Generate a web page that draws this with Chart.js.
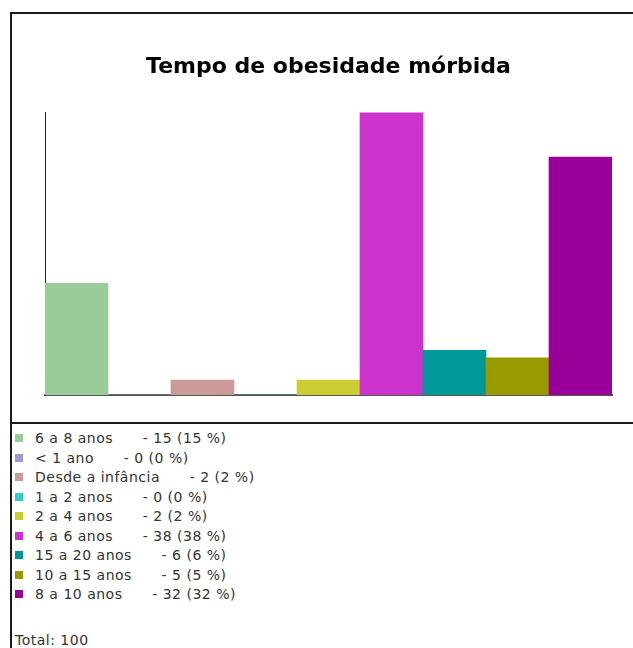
<!DOCTYPE html>
<html>
<head>
<meta charset="utf-8">
<script src="https://cdn.jsdelivr.net/npm/chart.js@4/dist/chart.umd.min.js"></script>
<style>
  html, body { margin: 0; padding: 0; background: #fff; overflow: hidden; width: 633px; height: 648px; }
  #frame { position: absolute; left: 10px; top: 12px; width: 660px; height: 700px;
           border-left: 2px solid #1a1a1a; border-top: 2px solid #1a1a1a; }
  #chartBox { position: absolute; left: 0; top: 0; width: 636px; height: 408px;
              border-bottom: 2px solid #1a1a1a; }
  #legend { position: absolute; left: 15px; top: 429px; font-family: 'DejaVu Sans', Verdana, sans-serif;
            font-size: 14px; letter-spacing: 0.5px; color: #333; }
  .row { position: relative; height: 19.5px; line-height: 19.5px; white-space: pre; }
  .sw { position: absolute; left: 0; top: 5px; width: 8px; height: 8px; }
  .txt { position: absolute; left: 20px; top: 0; }
  #total { position: absolute; left: 0; top: 203px; white-space: pre; }
</style>
</head>
<body>
<div id="frame">
  <div id="chartBox"><canvas id="c" width="636" height="408"></canvas></div>
</div>
<div id="legend"></div>
<script>
const chartTitle = "Tempo de obesidade mórbida";
const categories = ["6 a 8 anos", "< 1 ano", "Desde a infância", "1 a 2 anos", "2 a 4 anos",
                    "4 a 6 anos", "15 a 20 anos", "10 a 15 anos", "8 a 10 anos"];
const values = [15, 0, 2, 0, 2, 38, 6, 5, 32];
const colors = ["#99cc99", "#9999cc", "#cc9999", "#33cccc", "#cccc33",
                "#cc33cc", "#009999", "#999900", "#990099"];
const yMax = 38;

const total = values.reduce((a, b) => a + b, 0);

new Chart(document.getElementById('c'), {
  type: 'bar',
  data: {
    labels: categories,
    datasets: [{
      data: values,
      backgroundColor: colors,
      borderWidth: 0,
      barPercentage: 1,
      categoryPercentage: 1
    }]
  },
  options: {
    responsive: false,
    animation: false,
    layout: { padding: { left: 33, right: 36, top: 0, bottom: 19 } },
    plugins: {
      legend: { display: false },
      tooltip: { enabled: false },
      title: {
        display: true,
        text: chartTitle,
        color: '#000',
        font: { family: "'DejaVu Sans', Verdana, sans-serif", size: 22, weight: 'bold' },
        padding: { top: 40, bottom: 32 }
      }
    },
    scales: {
      x: {
        z: 1,
        grid: { display: false },
        ticks: { display: false },
        border: { display: true, color: '#555', width: 2 }
      },
      y: {
        min: 0, max: yMax,
        afterFit: (s) => { s.width = 0; },
        grid: { display: false },
        ticks: { display: false },
        border: { display: true, color: '#222', width: 1 }
      }
    }
  }
});

const legend = document.getElementById('legend');
categories.forEach((cat, i) => {
  const row = document.createElement('div');
  row.className = 'row';
  const sw = document.createElement('span');
  sw.className = 'sw';
  sw.style.background = colors[i];
  const t = document.createElement('span');
  t.className = 'txt';
  const pct = Math.round(values[i] / total * 100);
  t.textContent = cat + '      - ' + values[i] + ' (' + pct + ' %)';
  row.appendChild(sw);
  row.appendChild(t);
  legend.appendChild(row);
});
const tot = document.createElement('div');
tot.id = 'total';
tot.textContent = 'Total: ' + total;
legend.appendChild(tot);
</script>
</body>
</html>
